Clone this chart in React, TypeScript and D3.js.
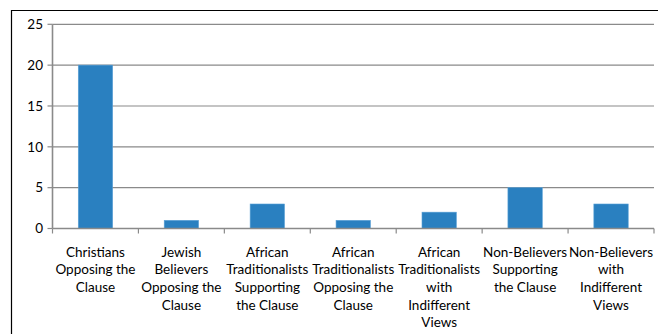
import React from "react";
import * as d3 from "d3";

const categories: string[][] = [
  ["Christians", "Opposing the", "Clause"],
  ["Jewish", "Believers", "Opposing the", "Clause"],
  ["African", "Traditionalists", "Supporting", "the Clause"],
  ["African", "Traditionalists", "Opposing the", "Clause"],
  ["African", "Traditionalists", "with", "Indifferent", "Views"],
  ["Non-Believers", "Supporting", "the Clause"],
  ["Non-Believers", "with", "Indifferent", "Views"],
];
const values: number[] = [20, 1, 3, 1, 2, 5, 3];
const yTicks: number[] = [0, 5, 10, 15, 20, 25];

const W = 658;
const H = 334;
const FONT = "Lato, 'Open Sans', sans-serif";
const FS = 13.5;

export default function App() {
  const left = 52.5;
  const right = 654;
  const top = 24.3;
  const bottom = 228.5;
  const idx = categories.map((_, i) => String(i));
  const x = d3
    .scaleBand<string>()
    .domain(idx)
    .range([left, right])
    .paddingInner(0.6)
    .paddingOuter(0.3);
  const y = d3.scaleLinear().domain([0, 25]).range([bottom, top]);
  const step = x.step();
  const bounds = idx.map((k) => (x(k) as number) - (step * 0.6) / 2);
  bounds.push(right);

  return (
    <svg
      width={W}
      height={H}
      style={{ position: "fixed", left: 0, top: 0, background: "#fff" }}
      fontFamily={FONT}
    >
      <rect x={0} y={0} width={W} height={H} fill="#fff" />
      <path d={`M11.5,${H + 2} V10.5 H${W + 2}`} fill="none" stroke="#000" strokeWidth={1.2} />
      {yTicks.map((t) => (
        <g key={t}>
          {t > 0 && (
            <line x1={left} x2={right} y1={y(t)} y2={y(t)} stroke="#8a8a8a" strokeWidth={1.2} />
          )}
          <line x1={left - 5} x2={left} y1={y(t)} y2={y(t)} stroke="#8a8a8a" strokeWidth={1.2} />
          <text
            x={43}
            y={y(t)}
            dy="0.35em"
            textAnchor="end"
            fontSize={FS}
            fill="#000"
          >
            {t}
          </text>
        </g>
      ))}
      {values.map((v, i) => (
        <rect
          key={i}
          x={x(String(i))}
          y={y(v)}
          width={x.bandwidth()}
          height={y(0) - y(v)}
          fill="#2a80c0"
          stroke="#5aa0d6"
          strokeWidth={0.6}
        />
      ))}
      <line x1={left} x2={left} y1={top} y2={bottom} stroke="#8a8a8a" strokeWidth={1.6} />
      <line x1={left} x2={right} y1={bottom} y2={bottom} stroke="#8a8a8a" strokeWidth={1.6} />
      {bounds.map((b, i) => (
        <line key={i} x1={b} x2={b} y1={bottom} y2={bottom + 5} stroke="#8a8a8a" strokeWidth={1.2} />
      ))}
      {categories.map((lines, i) => {
        const cx = (x(String(i)) as number) + x.bandwidth() / 2;
        return (
          <text key={i} x={cx} textAnchor="middle" fontSize={FS} fill="#000">
            {lines.map((l, j) => (
              <tspan key={j} x={cx} y={256.5 + j * 17.7}>
                {l}
              </tspan>
            ))}
          </text>
        );
      })}
    </svg>
  );
}
